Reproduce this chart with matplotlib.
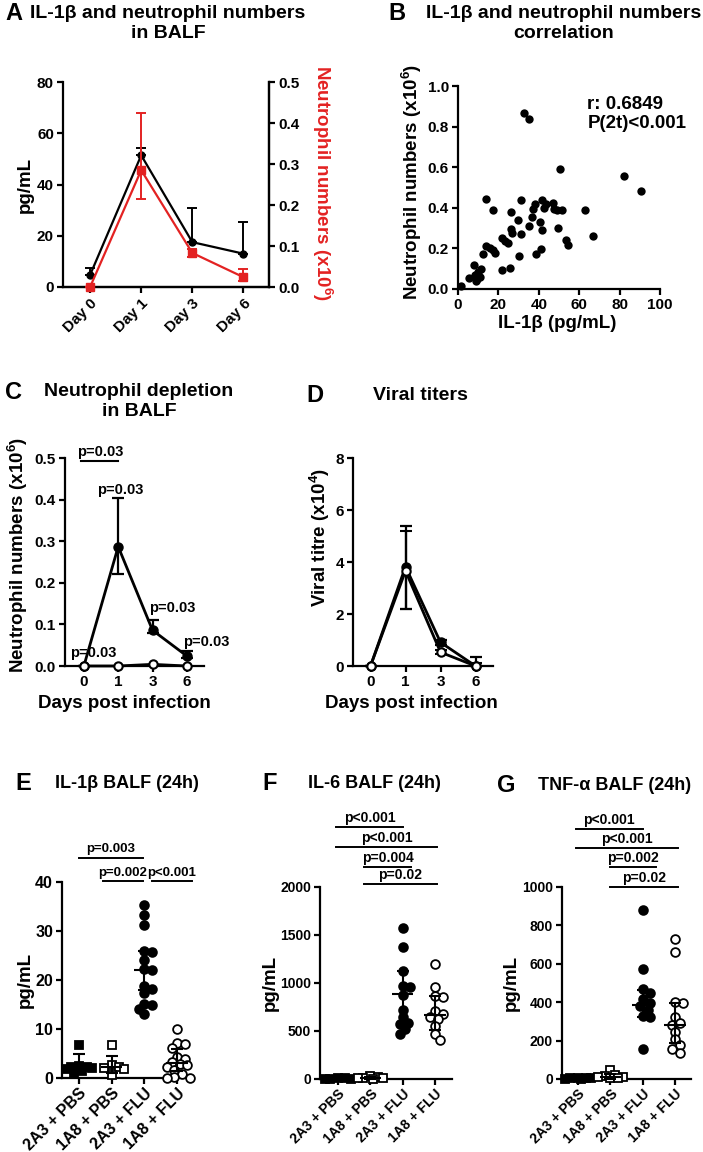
import numpy as np
import matplotlib
matplotlib.use("Agg")
import matplotlib.pyplot as plt

plt.rcParams['font.family'] = ['Liberation Sans', 'DejaVu Sans']
plt.rcParams['font.weight'] = 'bold'
plt.rcParams['mathtext.default'] = 'regular'

# ---------------- data ----------------
# Panel A
a_days = ["Day 0", "Day 1", "Day 3", "Day 6"]
a_il1b = [4.7, 51.4, 17.5, 13.0]
a_il1b_err = [2.7, 3.0, 13.2, 12.5]
a_neut = [0.0, 0.285, 0.083, 0.024]
a_neut_lo = [0.0, 0.071, 0.010, 0.010]
a_neut_hi = [0.0, 0.140, 0.010, 0.020]

# Panel B
b_il1b = [1.3, 5.5, 7.8, 8.5, 9.5, 10.0, 10.8, 11.6, 9.0, 12.4, 14.0, 13.7, 15.7,
          17.4, 18.2, 17.4, 22.0, 22.0, 23.1, 24.8, 25.6, 26.0, 26.4, 26.8, 29.8,
          30.3, 31.2, 31.2, 32.6, 35.0, 35.2, 36.4, 36.9, 38.0, 38.8, 40.5, 41.3,
          41.5, 41.8, 42.5, 43.8, 46.8, 47.3, 49.0, 49.6, 50.4, 51.6, 53.4, 54.5,
          62.8, 66.6, 82.1, 90.4]
b_neut = [0.016, 0.054, 0.116, 0.07, 0.05, 0.085, 0.06, 0.098, 0.04, 0.174, 0.443,
          0.21, 0.2, 0.387, 0.177, 0.19, 0.092, 0.25, 0.234, 0.226, 0.103, 0.379,
          0.295, 0.275, 0.338, 0.161, 0.269, 0.44, 0.869, 0.839, 0.311, 0.354,
          0.393, 0.42, 0.174, 0.328, 0.197, 0.292, 0.44, 0.398, 0.42, 0.426, 0.393,
          0.39, 0.3, 0.592, 0.387, 0.243, 0.218, 0.387, 0.262, 0.557, 0.485]
b_stats = "r: 0.6849\nP(2t)<0.001"

# Panel C
c_days = ["0", "1", "3", "6"]
c_ctrl = [0.0, 0.287, 0.086, 0.024]
c_ctrl_lo = [0.0, 0.065, 0.006, 0.004]
c_ctrl_hi = [0.0, 0.118, 0.024, 0.012]
c_depl = [0.0, 0.0, 0.004, 0.0]
c_ptext = "p=0.03"

# Panel D
d_days = ["0", "1", "3", "6"]
d_ctrl = [0.0, 3.82, 0.91, 0.0]
d_ctrl_lo = [0.0, 1.64, 0.10, 0.0]
d_ctrl_hi = [0.0, 1.58, 0.10, 0.34]
d_depl = [0.0, 3.66, 0.53, 0.0]
d_depl_lo = [0.0, 1.48, 0.08, 0.0]
d_depl_hi = [0.0, 1.53, 0.08, 0.10]

# Panels E-G
groups = ["2A3 + PBS", "1A8 + PBS", "2A3 + FLU", "1A8 + FLU"]

e_vals = [
    [6.8, 2.5, 2.3, 2.2, 2.0, 1.9, 1.5, 1.0],
    [6.8, 2.6, 2.3, 2.0, 1.8, 0.6],
    [35.4, 33.3, 31.3, 26.0, 25.8, 24.0, 22.2, 22.0, 18.7, 18.2, 17.3, 15.2, 14.9, 14.1, 13.1],
    [9.9, 7.2, 7.0, 6.2, 4.3, 3.9, 3.3, 2.9, 2.6, 2.2, 1.7, 0.9, 0.2, 0.0, 0.0],
]
e_center = [2.2, 2.3, 22.0, 3.1]
e_lo = [1.0, 1.0, 18.0, 1.5]
e_hi = [4.8, 4.5, 26.0, 6.0]
e_pvals = [("p=0.003", 0.0, 1.96, 45.0), ("p=0.002", 0.73, 1.96, 40.2), ("p<0.001", 2.25, 3.45, 40.2)]

f_vals = [
    [8, 6, 5, 4, 3],
    [30, 20, 15, 10, 8, 5],
    [1578, 1370, 1128, 969, 955, 875, 720, 644, 588, 574, 519, 471],
    [1197, 962, 865, 858, 709, 678, 644, 623, 554, 471, 408],
]
f_center = [5, 12, 882, 668]
f_lo = [2, 5, 581, 512]
f_hi = [8, 25, 1125, 868]
f_pvals = [("p<0.001", -0.05, 2.0, 2625), ("p<0.001", -0.05, 3.05, 2420),
           ("p=0.004", 0.81, 2.27, 2212), ("p=0.02", 0.81, 3.05, 2031)]

g_vals = [
    [5, 4, 3, 3, 2, 1],
    [45, 20, 15, 10, 8, 5, 3],
    [879, 573, 467, 450, 415, 398, 381, 360, 329, 322, 156],
    [727, 663, 403, 394, 322, 294, 282, 247, 208, 178, 156, 135],
]
g_center = [2, 10, 386, 282]
g_lo = [0, 2, 325, 187]
g_hi = [4, 25, 464, 398]
g_pvals = [("p<0.001", -0.07, 2.0, 1302), ("p<0.001", -0.07, 3.1, 1205),
           ("p=0.002", 0.98, 2.4, 1102), ("p=0.02", 0.98, 3.1, 1002)]

# ---------------- figure ----------------
W, H = 703, 1152
fig = plt.figure(figsize=(W / 100, H / 100), dpi=100)
RED = "#e32222"
LW = 1.6


def add_ax(l, t, r, b):
    return fig.add_axes([l / W, 1 - b / H, (r - l) / W, (b - t) / H])


def ftext(x, y, s, **kw):
    kw.setdefault("ha", "center")
    kw.setdefault("va", "center")
    kw.setdefault("fontweight", "bold")
    fig.text(x / W, 1 - y / H, s, **kw)


def style(ax, right=False, labelsize=11):
    ax.spines["top"].set_visible(False)
    if not right:
        ax.spines["right"].set_visible(False)
    for s in ax.spines.values():
        s.set_linewidth(LW)
    ax.tick_params(width=LW, length=4.5, direction="out", labelsize=labelsize, pad=2)
    ax.patch.set_alpha(0)


def swarm(vals, center, px_per_x, px_per_y, d_px, max_off):
    vals = np.asarray(vals, float)
    order = np.argsort(-vals, kind="stable")
    out = np.zeros(len(vals))
    placed = []
    step = 0.3 * d_px
    offsets = [0.0]
    j = 1
    while j * step <= max_off + 1e-9:
        offsets += [j * step, -j * step]
        j += 1
    for i in order:
        y = vals[i] * px_per_y
        best, best_d = 0.0, -1.0
        chosen = None
        for off in offsets:
            dmin = min([np.hypot(off - px, y - py) for px, py in placed] or [1e9])
            if dmin >= 0.8 * d_px:
                chosen = off
                break
            if dmin > best_d:
                best, best_d = off, dmin
        if chosen is None:
            chosen = best
        placed.append((chosen, y))
        out[i] = center + chosen / px_per_x
    return out


# ---------- Panel A ----------
axA = add_ax(63, 82, 269, 287)
x = np.arange(len(a_days))
axA.errorbar(x, a_il1b, yerr=[np.zeros(len(x)), a_il1b_err], color="black", marker="o",
             ms=5, lw=LW, elinewidth=1.4, capsize=3.5, capthick=1.4, clip_on=False, zorder=3)
axA.set_xlim(-0.53, 3.5)
axA.set_ylim(0, 80)
axA.set_yticks([0, 20, 40, 60, 80])
axA.set_xticks(x)
axA.set_xticklabels(a_days, rotation=45, ha="right", va="top", rotation_mode="anchor", fontsize=10.5)
style(axA, right=True)
axA2 = axA.twinx()
axA2.errorbar(x, a_neut, yerr=[a_neut_lo, a_neut_hi], color=RED, marker="s", ms=5.5, lw=LW,
              elinewidth=1.4, capsize=3.5, capthick=1.4, clip_on=False, zorder=3)
axA2.set_ylim(0, 0.5)
axA2.set_yticks(np.arange(0, 0.51, 0.1))
axA2.set_yticklabels([f"{v:.1f}" for v in np.arange(0, 0.51, 0.1)])
style(axA2, right=True)
axA2.spines["left"].set_visible(False)
ftext(14, 14, "A", fontsize=17)
ftext(168, 14, "IL-1β and neutrophil numbers", fontsize=14)
ftext(168, 34, "in BALF", fontsize=14)
ftext(25, 185, "pg/mL", rotation=90, fontsize=13.5)
ftext(322, 183, "Neutrophil numbers (x10$^{6}$)", rotation=270, fontsize=13.5, color=RED)

# ---------- Panel B ----------
axB = add_ax(458, 86, 660, 289)
axB.scatter(b_il1b, b_neut, s=36, color="black", clip_on=False, zorder=3, linewidths=0)
axB.set_xlim(0, 100)
axB.set_ylim(0, 1.0)
axB.set_xticks([0, 20, 40, 60, 80, 100])
axB.set_yticks(np.arange(0, 1.01, 0.2))
axB.set_yticklabels([f"{v:.1f}" for v in np.arange(0, 1.01, 0.2)])
style(axB)
axB.text(0.64, 0.95, b_stats, transform=axB.transAxes, ha="left", va="top", fontsize=13.5,
         linespacing=1.15)
ftext(397, 14, "B", fontsize=17)
ftext(564, 14, "IL-1β and neutrophil numbers", fontsize=14)
ftext(564, 34, "correlation", fontsize=14)
ftext(412, 182, "Neutrophil numbers (x10$^{6}$)", rotation=90, fontsize=13.5)
ftext(557, 324, "IL-1β (pg/mL)", fontsize=13.5)

# ---------- Panel C ----------
axC = add_ax(65, 458, 204, 666)
xc = np.arange(len(c_days))
axC.errorbar(xc, c_ctrl, yerr=[c_ctrl_lo, c_ctrl_hi], color="black", marker="o", ms=6.5, lw=2.0,
             elinewidth=1.6, capsize=4, capthick=1.6, clip_on=False, zorder=3)
axC.plot(xc, c_depl, color="black", marker="o", ms=6, mfc="white", mec="black", mew=1.5, lw=2.0,
         clip_on=False, zorder=4)
axC.set_xlim(-0.55, 3.5)
axC.set_ylim(0, 0.5)
axC.set_xticks(xc)
axC.set_xticklabels(c_days)
axC.set_yticks(np.arange(0, 0.51, 0.1))
axC.set_yticklabels([f"{v:.1f}" for v in np.arange(0, 0.51, 0.1)])
style(axC)
pfs = 10.5
axC.plot([-0.07, 1.0], [0.493, 0.493], color="black", lw=1.5, clip_on=False)
axC.text(0.47, 0.498, c_ptext, ha="center", va="bottom", fontsize=pfs, clip_on=False)
for xp, yp in [(-0.4, 0.032), (0.38, 0.423), (1.9, 0.139), (2.88, 0.058)]:
    axC.text(xp, yp, c_ptext, ha="left", va="center", fontsize=pfs, clip_on=False)
ftext(14, 393, "C", fontsize=17)
ftext(139, 392, "Neutrophil depletion", fontsize=14)
ftext(139, 412, "in BALF", fontsize=14)
ftext(18, 555, "Neutrophil numbers (x10$^{6}$)", rotation=90, fontsize=13.5)
ftext(124, 703, "Days post infection", fontsize=13.5)

# ---------- Panel D ----------
axD = add_ax(353, 458, 493, 666)
xd = np.arange(len(d_days))
axD.errorbar(xd, d_ctrl, yerr=[d_ctrl_lo, d_ctrl_hi], color="black", marker="o", ms=6.5, lw=2.0,
             elinewidth=1.6, capsize=4, capthick=1.6, clip_on=False, zorder=3)
axD.errorbar(xd, d_depl, yerr=[d_depl_lo, d_depl_hi], color="black", marker="o", ms=6, mfc="white",
             mec="black", mew=1.5, lw=2.0, elinewidth=1.6, capsize=4, capthick=1.6,
             clip_on=False, zorder=4)
axD.set_xlim(-0.5, 3.5)
axD.set_ylim(0, 8)
axD.set_xticks(xd)
axD.set_xticklabels(d_days)
axD.set_yticks([0, 2, 4, 6, 8])
style(axD)
ftext(315, 395, "D", fontsize=17)
ftext(420, 396, "Viral titers", fontsize=14)
ftext(320, 537, "Viral titre (x10$^{4}$)", rotation=90, fontsize=13.5)
ftext(411, 703, "Days post infection", fontsize=13.5)


# ---------- Panels E-G ----------
def dot_panel(box, vals, center, lo, hi, pvals, ylim, yticks, xlim, letter, lpos, title, tpos,
              ylpos, tick_fs, p_fs, xt_fs):
    ax = add_ax(*box)
    ax.set_xlim(*xlim)
    ax.set_ylim(*ylim)
    w_px = box[2] - box[0]
    h_px = box[3] - box[1]
    ppx = w_px / (xlim[1] - xlim[0])
    ppy = h_px / (ylim[1] - ylim[0])
    markers = ["s", "s", "o", "o"]
    fills = [True, False, True, False]
    for i, v in enumerate(vals):
        xs = swarm(v, i, ppx, ppy, 8.5, 13)
        ax.plot(xs, v, ls="none", marker=markers[i], ms=6.3,
                mfc="black" if fills[i] else "white", mec="black", mew=1.3,
                clip_on=False, zorder=3)
    xi = np.arange(len(vals))
    c = np.asarray(center, float)
    ax.errorbar(xi, c, yerr=[c - np.asarray(lo, float), np.asarray(hi, float) - c], fmt="none",
                ecolor="black", elinewidth=1.5, capsize=4.5, capthick=1.5, zorder=4, clip_on=False)
    ax.hlines(c, xi - 0.33, xi + 0.33, color="black", lw=1.5, zorder=4)
    ax.set_xticks(xi)
    ax.set_xticklabels(groups, rotation=45, ha="right", va="top", rotation_mode="anchor",
                       fontsize=xt_fs)
    ax.set_yticks(yticks)
    style(ax, labelsize=tick_fs)
    ax.tick_params(axis="x", pad=1)
    for txt, x1, x2, yb in pvals:
        ax.plot([x1, x2], [yb, yb], color="black", lw=1.4, clip_on=False)
        ax.annotate(txt, ((x1 + x2) / 2, yb), xytext=(0, 1.5), textcoords="offset points",
                    ha="center", va="bottom", fontsize=p_fs, annotation_clip=False)
    ftext(lpos[0], lpos[1], letter, fontsize=17)
    ftext(tpos[0], tpos[1], title, fontsize=13)
    ftext(ylpos[0], ylpos[1], "pg/mL", rotation=90, fontsize=13.5)
    return ax


dot_panel((62, 882, 193, 1078), e_vals, e_center, e_lo, e_hi, e_pvals, (0, 40), [0, 10, 20, 30, 40],
          (-0.52, 3.49), "E", (23, 783), "IL-1β BALF (24h)", (127, 783), (25, 980), 11.5, 9.5, 9)
dot_panel((320, 887, 452, 1079), f_vals, f_center, f_lo, f_hi, f_pvals, (0, 2000),
          [0, 500, 1000, 1500, 2000], (-0.55, 3.52), "F", (270, 783), "IL-6 BALF (24h)",
          (374, 783), (270, 983), 10, 10, 9.5)
dot_panel((562, 887, 691, 1079), g_vals, g_center, g_lo, g_hi, g_pvals, (0, 1000),
          [0, 200, 400, 600, 800, 1000], (-0.5, 3.5), "G", (506, 785), "TNF-α BALF (24h)",
          (615, 785), (511, 983), 10, 10, 9.5)

fig.savefig("out.png", dpi=100)
